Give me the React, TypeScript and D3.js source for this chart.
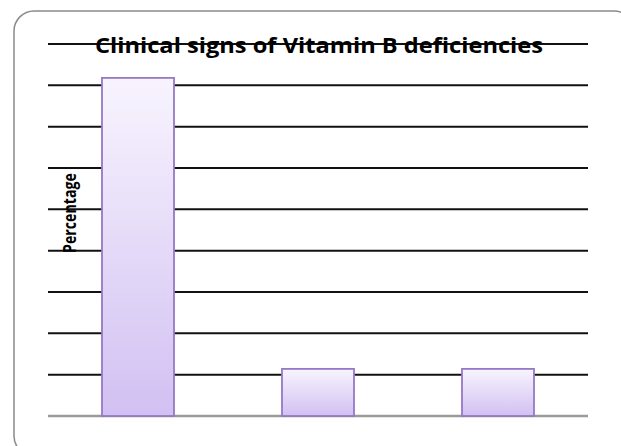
import * as d3 from "d3";

const WIDTH = 621;
const HEIGHT = 446;

const categories = ["Sign 1", "Sign 2", "Sign 3"];
const values = [81.8, 11.4, 11.4];
const yTicks = [0, 10, 20, 30, 40, 50, 60, 70, 80, 90];

const TITLE = "Clinical signs of Vitamin B deficiencies";
const Y_LABEL = "Percentage";

const M = { left: 48, right: 588, top: 44, bottom: 416 };

export default function App() {
  const x = d3
    .scaleBand<string>()
    .domain(categories)
    .range([M.left, M.right])
    .paddingInner(0.6)
    .paddingOuter(0.3);

  const y = d3.scaleLinear().domain([0, 90]).range([M.bottom, M.top]);

  return (
    <svg
      width={WIDTH}
      height={HEIGHT}
      style={{ position: "fixed", left: 0, top: 0, background: "#fff" }}
      fontFamily="'Open Sans', sans-serif"
    >
      <defs>
        <linearGradient id="barFill" x1="0" y1="0" x2="0" y2="1">
          <stop offset="0%" stopColor="#f8f4fe" />
          <stop offset="100%" stopColor="#d1c0f2" />
        </linearGradient>
      </defs>

      {/* outer frame */}
      <rect
        x={14}
        y={11}
        width={620}
        height={445}
        rx={20}
        fill="#fff"
        stroke="#8a8a8a"
        strokeWidth={1.5}
      />

      {/* gridlines */}
      {yTicks.map((t) => (
        <line
          key={t}
          x1={M.left}
          x2={M.right}
          y1={y(t)}
          y2={y(t)}
          stroke={t === 0 ? "#9a9a9a" : "#111"}
          strokeWidth={t === 0 ? 2.5 : 2}
        />
      ))}

      {/* bars */}
      {categories.map((c, i) => (
        <rect
          key={c}
          x={x(c)}
          y={y(values[i])}
          width={x.bandwidth()}
          height={y(0) - y(values[i])}
          fill="url(#barFill)"
          stroke="#9678c4"
          strokeWidth={1.8}
        />
      ))}

      <text
        x={319}
        y={53}
        textAnchor="middle"
        fontSize={22}
        fontWeight={700}
        fill="#000"
        textLength={448}
        lengthAdjust="spacingAndGlyphs"
      >
        {TITLE}
      </text>

      <text
        transform="translate(76,213) rotate(-90)"
        textAnchor="middle"
        fontSize={18}
        fontWeight={700}
        fill="#000"
        textLength={80}
        lengthAdjust="spacingAndGlyphs"
      >
        {Y_LABEL}
      </text>
    </svg>
  );
}
